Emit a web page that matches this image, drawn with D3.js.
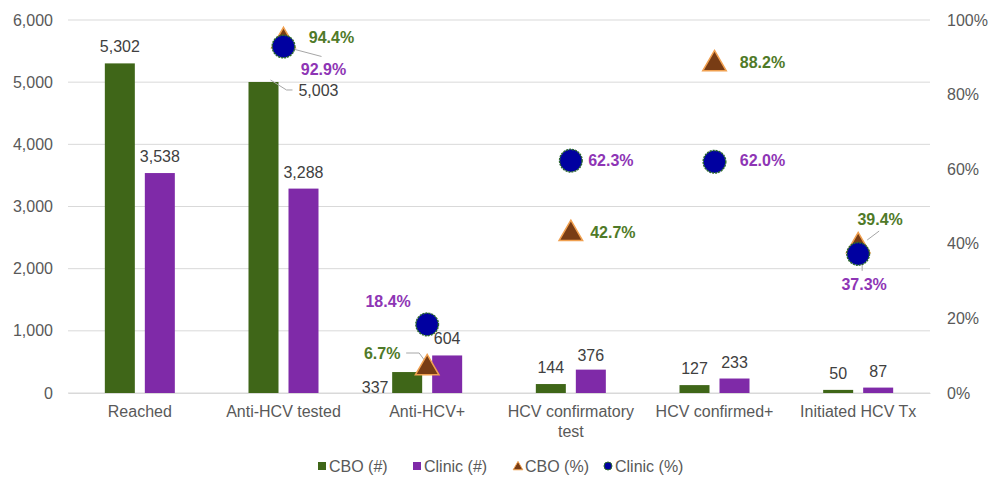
<!DOCTYPE html>
<html>
<head>
<meta charset="utf-8">
<script src="https://cdn.jsdelivr.net/npm/d3@7"></script>
<style>
body { margin: 0; background: #fff; }
text { font-family: "Liberation Sans", Arial, sans-serif; }
</style>
</head>
<body>
<svg class="chart"></svg>
<script>
// data
var categories = ["Reached", "Anti-HCV tested", "Anti-HCV+", "HCV confirmatory test", "HCV confirmed+", "Initiated HCV Tx"];
var cboCount = [5302, 5003, 337, 144, 127, 50];
var clinicCount = [3538, 3288, 604, 376, 233, 87];
var cboPct = [null, 94.4, 6.7, 42.7, 88.2, 39.4];
var clinicPct = [null, 92.9, 18.4, 62.3, 62.0, 37.3];
var leftTicks = [0, 1000, 2000, 3000, 4000, 5000, 6000];
var rightTicks = [0, 20, 40, 60, 80, 100];

// label offsets (dx, dy) relative to the mark
var cboCountOff = [[0, -11], [55, 14], [-32, 21], [0, -11], [0, -11], [0, -11]];
var clinicCountOff = [[0, -11], [0, -11], [0, -11], [0, -9], [0, -11], [0, -11]];
var cboPctOff = [null, [48, -3], [-45, -15], [42, -1], [48, -2], [22, -27]];
var clinicPctOff = [null, [40, 23], [-39, -23], [40, 0], [48, -1], [6, 31]];

var width = 989, height = 477;
var margin = {top: 20, right: 59, bottom: 84, left: 68};
var w = width - margin.left - margin.right;
var h = height - margin.top - margin.bottom;

var svg = d3.select(".chart").attr("width", width).attr("height", height);
var chart = svg.append("g").attr("transform", "translate(" + margin.left + "," + margin.top + ")");

var x = d3.scaleBand().domain(categories).range([0, w]);
var y = d3.scaleLinear().domain([0, 6000]).range([h, 0]);
var yPct = d3.scaleLinear().domain([0, 100]).range([h, 0]);

var fmt = d3.format(",");
var textCol = "#595959";
var fs = "16px";

// gridlines
chart.selectAll(".grid").data(leftTicks).enter().append("line")
	.attr("x1", 0).attr("x2", w)
	.attr("y1", function(d){ return y(d); }).attr("y2", function(d){ return y(d); })
	.attr("stroke", "#d9d9d9").attr("stroke-width", 1);

// left axis
var yAxis = d3.axisLeft(y).tickValues(leftTicks).tickFormat(fmt).tickSize(0).tickPadding(15);
chart.append("g").call(yAxis).call(function(g){
	g.select(".domain").remove();
	g.selectAll("text").attr("fill", textCol).style("font-size", fs);
});

// right axis
var yAxisR = d3.axisRight(yPct).tickValues(rightTicks).tickFormat(function(d){ return d + "%"; }).tickSize(0).tickPadding(17);
chart.append("g").attr("transform", "translate(" + w + ",0)").call(yAxisR).call(function(g){
	g.select(".domain").remove();
	g.selectAll("text").attr("fill", textCol).style("font-size", fs);
});

// bottom axis labels
var xAxis = d3.axisBottom(x).tickSize(0).tickPadding(13);
chart.append("g").attr("transform", "translate(0," + h + ")").call(xAxis).call(function(g){
	g.select(".domain").attr("stroke", "#d9d9d9");
	g.selectAll("text").attr("fill", textCol).style("font-size", fs).text(null)
		.each(function(d){
			var t = d3.select(this);
			var lines = d === "HCV confirmatory test" ? ["HCV confirmatory", "test"] : [d];
			lines.forEach(function(l, i){
				t.append("tspan").attr("x", 0).attr("dy", i === 0 ? "0.71em" : "1.2em").text(l);
			});
		});
});

var barW = 30, gap = 10;
var cboX = function(i){ return x(categories[i]) + x.bandwidth() / 2 - gap / 2 - barW; };
var clinicX = function(i){ return x(categories[i]) + x.bandwidth() / 2 + gap / 2; };
var cx = function(i){ return x(categories[i]) + x.bandwidth() / 2; };

// bars
chart.selectAll(".cbo").data(cboCount).enter().append("rect")
	.attr("x", function(d, i){ return cboX(i); })
	.attr("y", function(d){ return y(d); })
	.attr("width", barW)
	.attr("height", function(d){ return h - y(d); })
	.attr("fill", "#3f6618");
chart.selectAll(".clinic").data(clinicCount).enter().append("rect")
	.attr("x", function(d, i){ return clinicX(i); })
	.attr("y", function(d){ return y(d); })
	.attr("width", barW)
	.attr("height", function(d){ return h - y(d); })
	.attr("fill", "#7f2aa8");

// count labels
chart.selectAll(".cboLab").data(cboCount).enter().append("text")
	.attr("x", function(d, i){ return cboX(i) + barW / 2 + cboCountOff[i][0]; })
	.attr("y", function(d, i){ return y(d) + cboCountOff[i][1]; })
	.attr("text-anchor", "middle").attr("fill", "#404040").style("font-size", fs)
	.text(function(d){ return fmt(d); });
chart.selectAll(".clinicLab").data(clinicCount).enter().append("text")
	.attr("x", function(d, i){ return clinicX(i) + barW / 2 + clinicCountOff[i][0]; })
	.attr("y", function(d, i){ return y(d) + clinicCountOff[i][1]; })
	.attr("text-anchor", "middle").attr("fill", "#404040").style("font-size", fs)
	.text(function(d){ return fmt(d); });

// leader lines
var lead = chart.append("g").attr("stroke", "#a6a6a6").attr("fill", "none").attr("stroke-width", 1);
lead.append("path").attr("d", "M" + (cboX(1) + barW - 8) + "," + (y(cboCount[1]) - 2) + "L" + (cboX(1) + barW + 8) + "," + (y(cboCount[1]) + 8) + "L" + (cboX(1) + barW + 14) + "," + (y(cboCount[1]) + 8));
lead.append("path").attr("d", "M" + cx(1) + "," + yPct(clinicPct[1]) + "L" + (cx(1) + 38) + "," + (yPct(clinicPct[1]) + 10));
lead.append("path").attr("d", "M" + (cx(2) - 21) + "," + (yPct(cboPct[2]) - 15) + "L" + (cx(2) - 8) + "," + (yPct(cboPct[2]) - 15) + "L" + cx(2) + "," + (yPct(cboPct[2]) - 4));
lead.append("path").attr("d", "M" + (cx(5) + 21) + "," + (yPct(cboPct[5]) - 15) + "L" + (cx(5) + 9) + "," + (yPct(cboPct[5]) - 6));
lead.append("path").attr("d", "M" + (cx(5) + 4) + "," + (yPct(clinicPct[5]) + 2) + "L" + (cx(5) + 4) + "," + (yPct(clinicPct[5]) + 17));

// markers
var tri = d3.symbol().type(d3.symbolTriangle).size(240);
var circ = d3.symbol().type(d3.symbolCircle).size(400);
cboPct.forEach(function(d, i){
	if (d === null) return;
	chart.append("path").attr("d", tri)
		.attr("transform", "translate(" + cx(i) + "," + yPct(d) + ")")
		.attr("fill", "#783c14").attr("stroke", "#f0a050").attr("stroke-width", 1.5);
});
clinicPct.forEach(function(d, i){
	if (d === null) return;
	chart.append("path").attr("d", circ)
		.attr("transform", "translate(" + cx(i) + "," + yPct(d) + ")")
		.attr("fill", "#0000a0").attr("stroke", "#2d6a2d").attr("stroke-width", 1.5).attr("stroke-dasharray", "2,1");
});

// percent labels
cboPct.forEach(function(d, i){
	if (d === null) return;
	chart.append("text")
		.attr("x", cx(i) + cboPctOff[i][0]).attr("y", yPct(d) + cboPctOff[i][1])
		.attr("text-anchor", "middle").attr("dy", "0.35em")
		.attr("fill", "#4f7a28").style("font-size", fs).style("font-weight", "bold")
		.text(d.toFixed(1) + "%");
});
clinicPct.forEach(function(d, i){
	if (d === null) return;
	chart.append("text")
		.attr("x", cx(i) + clinicPctOff[i][0]).attr("y", yPct(d) + clinicPctOff[i][1])
		.attr("text-anchor", "middle").attr("dy", "0.35em")
		.attr("fill", "#8e35b5").style("font-size", fs).style("font-weight", "bold")
		.text(d.toFixed(1) + "%");
});

// legend
var legendItems = [
	{name: "CBO (#)", kind: "rect", fill: "#3f6618"},
	{name: "Clinic (#)", kind: "rect", fill: "#7f2aa8"},
	{name: "CBO (%)", kind: "tri"},
	{name: "Clinic (%)", kind: "circ"}
];
var legendX = [318, 413, 514, 604];
var legend = svg.append("g").attr("transform", "translate(0,466)");
legendItems.forEach(function(it, i){
	var g = legend.append("g").attr("transform", "translate(" + legendX[i] + ",0)");
	if (it.kind === "rect") {
		g.append("rect").attr("x", 0).attr("y", -4).attr("width", 8).attr("height", 8).attr("fill", it.fill);
	} else if (it.kind === "tri") {
		g.append("path").attr("d", d3.symbol().type(d3.symbolTriangle).size(40)).attr("transform", "translate(4,1)")
			.attr("fill", "#783c14").attr("stroke", "#f0a050").attr("stroke-width", 1);
	} else {
		g.append("path").attr("d", d3.symbol().type(d3.symbolCircle).size(50)).attr("transform", "translate(4,0)")
			.attr("fill", "#0000a0").attr("stroke", "#2d6a2d").attr("stroke-width", 1);
	}
	g.append("text").attr("x", 11).attr("dy", "0.35em").attr("fill", textCol).style("font-size", fs).text(it.name);
});
</script>
</body>
</html>
